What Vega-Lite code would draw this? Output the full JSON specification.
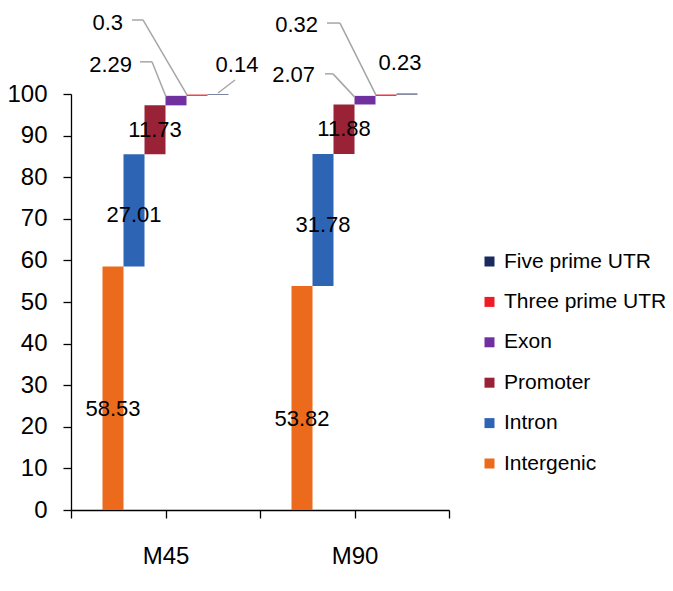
{
  "$schema": "https://vega.github.io/schema/vega-lite/v6.json",
  "width": 378,
  "height": 416,
  "autosize": {"type": "none"},
  "padding": {"left": 71, "top": 94, "right": 224, "bottom": 81},
  "config": {
    "view": {"stroke": null},
    "font": "Liberation Sans",
    "axis": {"grid": false, "domainColor": "black", "tickColor": "black", "labelColor": "black", "domainWidth": 1.3, "tickWidth": 1.3, "tickSize": 8, "labelFontSize": 24, "labelFont": "Liberation Sans"},
    "legend": {"orient": "none", "legendX": 408, "legendY": 157, "direction": "vertical", "symbolType": "square", "symbolSize": 100, "symbolStrokeWidth": 0, "labelFontSize": 21, "labelOffset": 4, "labelLimit": 0, "rowPadding": 18.4, "labelColor": "black", "padding": 0, "labelFont": "Liberation Sans"}
  },
  "data": {
    "values": [
      {"sample": "M45", "region": "Intergenic", "value": 58.53},
      {"sample": "M45", "region": "Intron", "value": 27.01},
      {"sample": "M45", "region": "Promoter", "value": 11.73},
      {"sample": "M45", "region": "Exon", "value": 2.29},
      {"sample": "M45", "region": "Three prime UTR", "value": 0.3},
      {"sample": "M45", "region": "Five prime UTR", "value": 0.14},
      {"sample": "M90", "region": "Intergenic", "value": 53.82},
      {"sample": "M90", "region": "Intron", "value": 31.78},
      {"sample": "M90", "region": "Promoter", "value": 11.88},
      {"sample": "M90", "region": "Exon", "value": 2.07},
      {"sample": "M90", "region": "Three prime UTR", "value": 0.32},
      {"sample": "M90", "region": "Five prime UTR", "value": 0.23}
    ]
  },
  "transform": [
    {"calculate": "indexof(['M45','M90'], datum.sample)", "as": "si"},
    {"calculate": "indexof(['Intergenic','Intron','Promoter','Exon','Three prime UTR','Five prime UTR'], datum.region)", "as": "ri"},
    {"window": [{"op": "sum", "field": "value", "as": "end"}], "groupby": ["sample"], "sort": [{"field": "ri", "order": "ascending"}], "frame": [null, 0]},
    {"calculate": "datum.end - datum.value", "as": "start"},
    {"calculate": "(datum.start + datum.end) / 2", "as": "mid"},
    {"calculate": "datum.si + (datum.ri + 1.5) / 9", "as": "x0"},
    {"calculate": "datum.x0 + 1 / 9", "as": "x1"},
    {"calculate": "datum.x0 + 1 / 18", "as": "xc"}
  ],
  "layer": [
    {
      "mark": {"type": "bar"},
      "encoding": {
        "x": {"field": "x0", "type": "quantitative", "title": null,
          "scale": {"domain": [0, 2], "nice": false, "zero": false},
          "axis": {"values": [0, 0.5, 1, 1.5, 2], "labelExpr": "datum.value == 0.5 ? 'M45' : datum.value == 1.5 ? 'M90' : ''", "labelPadding": 26, "labelFlush": false, "labelOverlap": false,
            "encode": {"ticks": {"update": {"opacity": {"signal": "datum.value == 0.5 || datum.value == 1.5 ? 0 : 1"}}}}}},
        "x2": {"field": "x1"},
        "y": {"field": "start", "type": "quantitative", "title": null,
          "scale": {"domain": [0, 100], "nice": false},
          "axis": {"values": [0, 10, 20, 30, 40, 50, 60, 70, 80, 90, 100], "labelPadding": 16}},
        "y2": {"field": "end"},
        "color": {"field": "region", "type": "nominal", "title": null,
          "scale": {"domain": ["Five prime UTR", "Three prime UTR", "Exon", "Promoter", "Intron", "Intergenic"],
                    "range": ["#1B2A5C", "#EE1C24", "#7030A0", "#9A2236", "#2E64B4", "#EC6A1C"]}}
      }
    },
    {
      "transform": [{"filter": "datum.ri == 0"}],
      "mark": {"type": "text", "fontSize": 22, "color": "black", "align": "center", "baseline": "middle", "dy": 21},
      "encoding": {
        "x": {"field": "xc", "type": "quantitative", "title": null},
        "y": {"field": "mid", "type": "quantitative", "title": null},
        "text": {"field": "value", "type": "quantitative", "format": ".2~f"}
      }
    },
    {
      "transform": [{"filter": "datum.ri == 1"}],
      "mark": {"type": "text", "fontSize": 22, "color": "black", "align": "center", "baseline": "middle", "dy": 5},
      "encoding": {
        "x": {"field": "xc", "type": "quantitative", "title": null},
        "y": {"field": "mid", "type": "quantitative", "title": null},
        "text": {"field": "value", "type": "quantitative", "format": ".2~f"}
      }
    },
    {
      "transform": [{"filter": "datum.ri == 2"}],
      "mark": {"type": "text", "fontSize": 22, "color": "black", "align": "center", "baseline": "middle"},
      "encoding": {
        "x": {"field": "xc", "type": "quantitative", "title": null},
        "y": {"field": "mid", "type": "quantitative", "title": null},
        "text": {"field": "value", "type": "quantitative", "format": ".2~f"}
      }
    },
    {
      "transform": [{"filter": "datum.sample == 'M45' && datum.region == 'Exon'"}],
      "layer": [
        {"mark": {"type": "rule", "color": "#A6A6A6", "strokeWidth": 1.5, "xOffset": 0.5, "yOffset": 1, "x2Offset": -13.5, "y2Offset": -34},
         "encoding": {"x": {"field": "x0", "type": "quantitative", "title": null}, "x2": {"field": "x0"}, "y": {"field": "end", "type": "quantitative", "title": null}, "y2": {"field": "end"}}},
        {"mark": {"type": "rule", "color": "#A6A6A6", "strokeWidth": 1.5, "xOffset": -13.5, "yOffset": -34, "x2Offset": -25.5, "y2Offset": -34},
         "encoding": {"x": {"field": "x0", "type": "quantitative", "title": null}, "x2": {"field": "x0"}, "y": {"field": "end", "type": "quantitative", "title": null}, "y2": {"field": "end"}}},
        {"mark": {"type": "text", "fontSize": 22, "color": "black", "align": "right", "baseline": "middle", "dx": -33.5, "dy": -31},
         "encoding": {"x": {"field": "x0", "type": "quantitative", "title": null}, "y": {"field": "end", "type": "quantitative", "title": null}, "text": {"field": "value", "type": "quantitative", "format": ".2~f"}}}
      ]
    },
    {
      "transform": [{"filter": "datum.sample == 'M45' && datum.region == 'Three prime UTR'"}],
      "layer": [
        {"mark": {"type": "rule", "color": "#A6A6A6", "strokeWidth": 1.5, "xOffset": 0.5, "yOffset": 0.4, "x2Offset": -43.5, "y2Offset": -74.6},
         "encoding": {"x": {"field": "x0", "type": "quantitative", "title": null}, "x2": {"field": "x0"}, "y": {"field": "end", "type": "quantitative", "title": null}, "y2": {"field": "end"}}},
        {"mark": {"type": "rule", "color": "#A6A6A6", "strokeWidth": 1.5, "xOffset": -43.5, "yOffset": -74.6, "x2Offset": -54.5, "y2Offset": -74.6},
         "encoding": {"x": {"field": "x0", "type": "quantitative", "title": null}, "x2": {"field": "x0"}, "y": {"field": "end", "type": "quantitative", "title": null}, "y2": {"field": "end"}}},
        {"mark": {"type": "text", "fontSize": 22, "color": "black", "align": "right", "baseline": "middle", "dx": -63.5, "dy": -71.6},
         "encoding": {"x": {"field": "x0", "type": "quantitative", "title": null}, "y": {"field": "end", "type": "quantitative", "title": null}, "text": {"field": "value", "type": "quantitative", "format": ".2~f"}}}
      ]
    },
    {
      "transform": [{"filter": "datum.sample == 'M45' && datum.region == 'Five prime UTR'"}],
      "layer": [
        {"mark": {"type": "rule", "color": "#A6A6A6", "strokeWidth": 1.5, "xOffset": 10.5, "yOffset": -1, "x2Offset": 27.5, "y2Offset": -14},
         "encoding": {"x": {"field": "x0", "type": "quantitative", "title": null}, "x2": {"field": "x0"}, "y": {"field": "end", "type": "quantitative", "title": null}, "y2": {"field": "end"}}},
        {"mark": {"type": "text", "fontSize": 22, "color": "black", "align": "center", "baseline": "middle", "dx": 29.5, "dy": -29},
         "encoding": {"x": {"field": "x0", "type": "quantitative", "title": null}, "y": {"field": "end", "type": "quantitative", "title": null}, "text": {"field": "value", "type": "quantitative", "format": ".2~f"}}}
      ]
    },
    {
      "transform": [{"filter": "datum.sample == 'M90' && datum.region == 'Exon'"}],
      "layer": [
        {"mark": {"type": "rule", "color": "#A6A6A6", "strokeWidth": 1.5, "xOffset": 0, "yOffset": 1, "x2Offset": -21.5, "y2Offset": -22},
         "encoding": {"x": {"field": "x0", "type": "quantitative", "title": null}, "x2": {"field": "x0"}, "y": {"field": "end", "type": "quantitative", "title": null}, "y2": {"field": "end"}}},
        {"mark": {"type": "rule", "color": "#A6A6A6", "strokeWidth": 1.5, "xOffset": -21.5, "yOffset": -22, "x2Offset": -29.5, "y2Offset": -22},
         "encoding": {"x": {"field": "x0", "type": "quantitative", "title": null}, "x2": {"field": "x0"}, "y": {"field": "end", "type": "quantitative", "title": null}, "y2": {"field": "end"}}},
        {"mark": {"type": "text", "fontSize": 22, "color": "black", "align": "right", "baseline": "middle", "dx": -39.5, "dy": -21},
         "encoding": {"x": {"field": "x0", "type": "quantitative", "title": null}, "y": {"field": "end", "type": "quantitative", "title": null}, "text": {"field": "value", "type": "quantitative", "format": ".2~f"}}}
      ]
    },
    {
      "transform": [{"filter": "datum.sample == 'M90' && datum.region == 'Three prime UTR'"}],
      "layer": [
        {"mark": {"type": "rule", "color": "#A6A6A6", "strokeWidth": 1.5, "xOffset": 0.5, "yOffset": 0.5, "x2Offset": -35.5, "y2Offset": -71.5},
         "encoding": {"x": {"field": "x0", "type": "quantitative", "title": null}, "x2": {"field": "x0"}, "y": {"field": "end", "type": "quantitative", "title": null}, "y2": {"field": "end"}}},
        {"mark": {"type": "rule", "color": "#A6A6A6", "strokeWidth": 1.5, "xOffset": -35.5, "yOffset": -71.5, "x2Offset": -48.5, "y2Offset": -71.5},
         "encoding": {"x": {"field": "x0", "type": "quantitative", "title": null}, "x2": {"field": "x0"}, "y": {"field": "end", "type": "quantitative", "title": null}, "y2": {"field": "end"}}},
        {"mark": {"type": "text", "fontSize": 22, "color": "black", "align": "right", "baseline": "middle", "dx": -57.5, "dy": -69.5},
         "encoding": {"x": {"field": "x0", "type": "quantitative", "title": null}, "y": {"field": "end", "type": "quantitative", "title": null}, "text": {"field": "value", "type": "quantitative", "format": ".2~f"}}}
      ]
    },
    {
      "transform": [{"filter": "datum.sample == 'M90' && datum.region == 'Five prime UTR'"}],
      "mark": {"type": "text", "fontSize": 22, "color": "black", "align": "center", "baseline": "middle", "dx": 3.5, "dy": -30.6},
      "encoding": {"x": {"field": "x0", "type": "quantitative", "title": null}, "y": {"field": "end", "type": "quantitative", "title": null}, "text": {"field": "value", "type": "quantitative", "format": ".2~f"}}
    }
  ]
}
